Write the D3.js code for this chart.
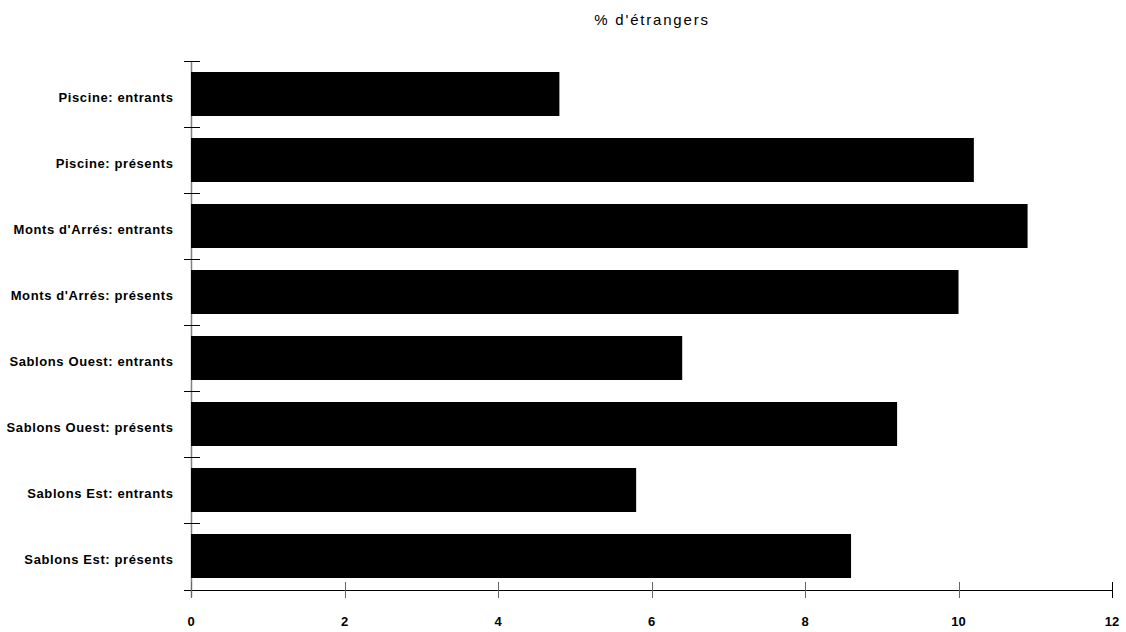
<!DOCTYPE html>
<html><head><meta charset="utf-8">
<script src="https://cdn.jsdelivr.net/npm/d3@7"></script>
<style>body{margin:0;background:#fff}svg{display:block}</style>
</head><body>
<script>
const categories = ["Piscine: entrants","Piscine: présents","Monts d'Arrés: entrants","Monts d'Arrés: présents","Sablons Ouest: entrants","Sablons Ouest: présents","Sablons Est: entrants","Sablons Est: présents"];
const values = [4.8, 10.2, 10.9, 10.0, 6.4, 9.2, 5.8, 8.6];
const xTicks = [0, 2, 4, 6, 8, 10, 12];
const title = "% d'étrangers";

const W = 1126, H = 632;
const FONT = "Liberation Sans, Arial, sans-serif";
const svg = d3.select("body").append("svg").attr("width", W).attr("height", H);
const x = d3.scaleLinear().domain([0, 12]).range([191, 1112]);
const y = d3.scaleBand().domain(categories).range([61, 589]).paddingInner(1/3).paddingOuter(1/6);

svg.append("text").attr("x", 652).attr("y", 25).attr("text-anchor", "middle")
  .attr("font-family", FONT).attr("font-size", 15)
  .attr("letter-spacing", "1.8px").attr("fill", "#000").text(title);

// y axis line
svg.append("line").attr("x1", 191.5).attr("x2", 191.5).attr("y1", 61).attr("y2", 597)
  .attr("stroke", "#808080").attr("stroke-width", 1.5);
// y ticks at band boundaries
const bounds = categories.map(c => y(c) - y.step() * y.paddingInner() / 2);
svg.selectAll(".yt").data(bounds).enter().append("line")
  .attr("x1", 184).attr("x2", 200).attr("y1", d => Math.round(d) + 0.5).attr("y2", d => Math.round(d) + 0.5)
  .attr("stroke", "#000").attr("stroke-width", 1);

// bars
svg.selectAll(".bar").data(values).enter().append("rect")
  .attr("x", x(0)).attr("y", (d, i) => y(categories[i]))
  .attr("width", d => x(d) - x(0)).attr("height", y.bandwidth()).attr("fill", "#000");

// y labels
svg.selectAll(".yl").data(categories).enter().append("text")
  .attr("x", 173.5).attr("y", d => y(d) + y.bandwidth() / 2 + 7.5).attr("text-anchor", "end")
  .attr("font-family", FONT).attr("font-size", 13).attr("font-weight", "bold")
  .attr("letter-spacing", "0.6px").attr("fill", "#000").text(d => d);

// x axis
svg.append("line").attr("x1", 184).attr("x2", 1112).attr("y1", 590.5).attr("y2", 590.5)
  .attr("stroke", "#000").attr("stroke-width", 1);
svg.selectAll(".xt").data(xTicks).enter().append("line")
  .attr("x1", d => Math.round(x(d)) + 0.5).attr("x2", d => Math.round(x(d)) + 0.5)
  .attr("y1", 582).attr("y2", 598).attr("stroke", d => d === 12 ? "#000" : "#666").attr("stroke-width", 1);
svg.selectAll(".xl").data(xTicks).enter().append("text")
  .attr("x", d => x(d)).attr("y", 626).attr("text-anchor", "middle")
  .attr("font-family", FONT).attr("font-size", 13).attr("font-weight", "bold")
  .attr("fill", "#000").text(d => d);
</script>
</body></html>
